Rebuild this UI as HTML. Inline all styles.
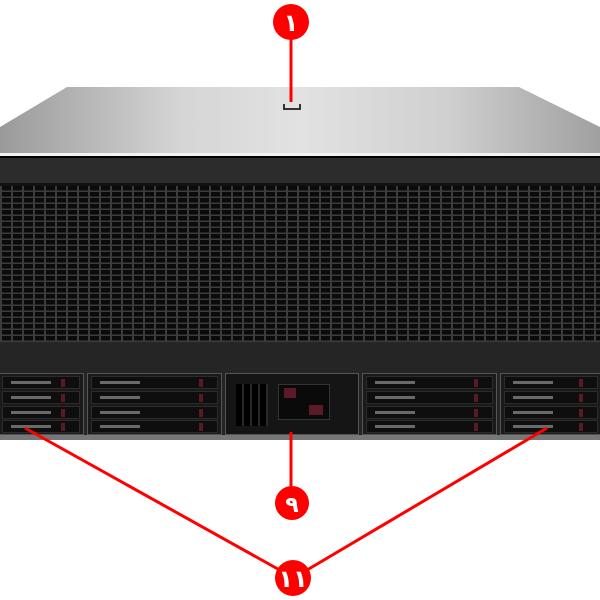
<!DOCTYPE html>
<html><head><style>
body{margin:0;width:600px;height:600px;background:#fff;position:relative;overflow:hidden;font-family:"Liberation Sans",sans-serif}
.a{position:absolute}
.grille{background-color:#3a3a3a;
background-image:repeating-linear-gradient(90deg,transparent 0 2px,transparent 2px 11px),
linear-gradient(#0000,#0000);}
.bay{position:absolute;top:373px;height:62px;background:#1a1a1a;border:1px solid #555;box-sizing:border-box}
.drv{position:absolute;left:3px;right:3px;height:13px;background:#0e0e0e;border:1px solid #2c2c2c;box-sizing:border-box}
.drv i{position:absolute;right:14px;top:2px;width:4px;height:8px;background:#5a1a24}
.drv b{position:absolute;left:8px;top:4px;width:40px;height:3px;background:#6a6a6a}
</style></head><body>
<!-- lid -->
<div class="a" style="left:0;top:87px;width:600px;height:66px;background:linear-gradient(90deg,#9a9a9a,#d5d5d5 30%,#e2e2e2 50%,#cfcfcf 75%,#a0a0a0);clip-path:polygon(67px 0,519px 0,600px 40px,600px 66px,0 66px,0 40px)"></div>
<div class="a" style="left:283px;top:104px;width:18px;height:6px;border:2px solid #333;border-top:none;box-sizing:border-box"></div>
<div class="a" style="left:0;top:153px;width:600px;height:3px;background:#f2f2f2"></div>
<div class="a" style="left:0;top:156px;width:600px;height:30px;background:#2c2c2c;border-top:2px solid #000;border-bottom:3px solid #111;box-sizing:border-box"></div>
<!-- grille -->
<div class="a" style="left:0;top:186px;width:600px;height:156px;background-color:#0b0b0b;background-image:repeating-linear-gradient(90deg,#3c3c3c 0 2px,transparent 2px 11px),repeating-linear-gradient(0deg,#3c3c3c 0 1.5px,transparent 1.5px 6px)"></div>
<div class="a" style="left:0;top:342px;width:600px;height:98px;background:#252525"></div>
<!-- bays -->
<div class="bay" style="left:-2px;width:86px"><div class="drv" style="top:2px"><i></i><b></b></div><div class="drv" style="top:17px"><i></i><b></b></div><div class="drv" style="top:32px"><i></i><b></b></div><div class="drv" style="top:46px"><i></i><b></b></div></div>
<div class="bay" style="left:87px;width:135px"><div class="drv" style="top:2px"><i></i><b></b></div><div class="drv" style="top:17px"><i></i><b></b></div><div class="drv" style="top:32px"><i></i><b></b></div><div class="drv" style="top:46px"><i></i><b></b></div></div>
<div class="bay" style="left:225px;width:134px;background:#151515">
 <div class="a" style="left:10px;top:10px;width:32px;height:42px;background:repeating-linear-gradient(90deg,#000 0 6px,#2a2a2a 6px 8px),#000"></div>
 <div class="a" style="left:52px;top:10px;width:50px;height:34px;background:#0a0a0a;border:1px solid #333"><div class="a" style="left:5px;top:3px;width:12px;height:10px;background:#5a1a28"></div><div class="a" style="left:30px;top:20px;width:14px;height:10px;background:#5a1a28"></div></div>
</div>
<div class="bay" style="left:362px;width:135px"><div class="drv" style="top:2px"><i></i><b></b></div><div class="drv" style="top:17px"><i></i><b></b></div><div class="drv" style="top:32px"><i></i><b></b></div><div class="drv" style="top:46px"><i></i><b></b></div></div>
<div class="bay" style="left:500px;width:102px"><div class="drv" style="top:2px"><i></i><b></b></div><div class="drv" style="top:17px"><i></i><b></b></div><div class="drv" style="top:32px"><i></i><b></b></div><div class="drv" style="top:46px"><i></i><b></b></div></div>
<div class="a" style="left:0;top:435px;width:600px;height:5px;background:#777"></div>
<!-- callouts -->
<svg class="a" style="left:0;top:0" width="600" height="600">
<g stroke="#f00" stroke-width="3">
<line x1="291" y1="30" x2="291" y2="102"/>
<line x1="291" y1="432" x2="291" y2="495"/>
<line x1="25" y1="428" x2="285" y2="573"/>
<line x1="547" y1="428" x2="302" y2="573"/>
</g>
<g fill="#f00"><circle cx="291" cy="22" r="18"/><circle cx="292" cy="503" r="17"/><circle cx="293" cy="578" r="18"/></g>
<g fill="#fff" font-family="'DejaVu Sans',sans-serif" font-weight="bold" text-anchor="middle">
<text x="291" y="31" font-size="24">١</text>
<text x="292" y="512" font-size="22">٩</text>
<text x="293" y="587" font-size="24">١١</text>
</g>
</svg>
</body></html>
